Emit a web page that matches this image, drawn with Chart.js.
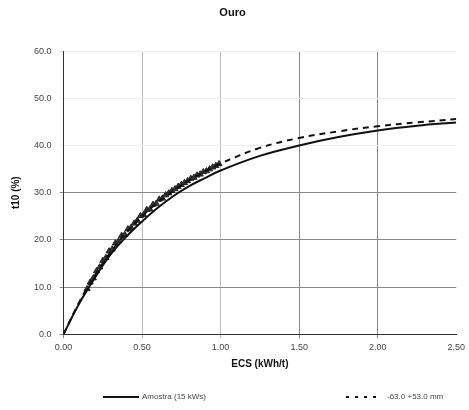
<!DOCTYPE html>
<html>
<head>
<meta charset="utf-8">
<script src="https://cdn.jsdelivr.net/npm/chart.js@4"></script>
<style>
  html, body { margin: 0; padding: 0; background: #fff; }
  #wrap { width: 469px; height: 410px; }
</style>
</head>
<body>
<div id="wrap"><canvas id="ouroChart"></canvas></div>
<script>
// Energy (kWh/t) and t10 (%) values
const ecsFit = [0, 0.1, 0.2, 0.3, 0.4, 0.5, 0.6, 0.7, 0.8, 0.9, 1.0, 1.25, 1.5, 1.75, 2.0, 2.25, 2.5];
const amostraT10 = [0, 6.5, 12.0, 16.9, 20.7, 23.9, 26.8, 29.3, 31.4, 33.1, 34.7, 37.8, 40.0, 41.8, 43.2, 44.2, 44.9];
const faixaT10 = [0, 6.8, 12.5, 17.4, 21.5, 25.0, 27.9, 30.4, 32.6, 34.5, 36.2, 39.5, 41.6, 43.0, 44.1, 44.9, 45.6];

// Measured points (cluster along the curves)
const ensaioEcs = [0.15, 0.17, 0.19, 0.21, 0.23, 0.25, 0.27, 0.29, 0.31, 0.33, 0.35, 0.37, 0.39, 0.41, 0.43, 0.45,
  0.47, 0.49, 0.51, 0.53, 0.55, 0.57, 0.59, 0.61, 0.63, 0.65, 0.67, 0.69, 0.71, 0.73, 0.75, 0.77, 0.79,
  0.81, 0.83, 0.85, 0.87, 0.89, 0.91, 0.93, 0.95, 0.97, 0.99];
const ensaioT10 = [9.6, 11.0, 11.9, 13.4, 14.2, 15.6, 16.2, 17.6, 18.0, 19.3, 19.7, 20.9, 21.1, 22.3, 22.6, 23.5,
  24.1, 25.1, 25.3, 26.4, 26.5, 27.5, 27.7, 28.6, 28.8, 29.5, 29.9, 30.4, 30.8, 31.3, 31.7, 32.1, 32.5,
  33.0, 33.2, 33.7, 33.9, 34.4, 34.6, 35.0, 35.4, 35.7, 36.1];

const legendLabels = ["Amostra (15 kWs)", "-63.0 +53.0 mm"];

const toXY = (xs, ys) => xs.map((x, i) => ({ x: x, y: ys[i] }));

// simple legend drawn below the x axis title
const bottomLegend = {
    id: "bottomLegend",
    afterDraw(chart) {
        const c = chart.ctx;
        const y = 397;
        c.save();
        c.strokeStyle = "#111";
        c.lineWidth = 2;
        c.beginPath();
        c.moveTo(103, y);
        c.lineTo(139, y);
        c.stroke();
        c.setLineDash([3, 6]);
        c.beginPath();
        c.moveTo(346, y);
        c.lineTo(381, y);
        c.stroke();
        c.setLineDash([]);
        c.fillStyle = "#444";
        c.font = "8px 'Liberation Sans'";
        c.textBaseline = "middle";
        c.fillText(legendLabels[0], 142, y);
        c.fillText(legendLabels[1], 387, y);
        c.restore();
    },
};

const ctx = document.getElementById("ouroChart").getContext("2d");
new Chart(ctx, {
    type: "scatter",
    data: {
        datasets: [
            {
                label: legendLabels[0],
                data: toXY(ecsFit, amostraT10),
                showLine: true,
                borderColor: "#111",
                borderWidth: 2,
                pointRadius: 0,
                tension: 0.4,
            },
            {
                label: legendLabels[1],
                data: toXY(ecsFit, faixaT10),
                showLine: true,
                borderColor: "#111",
                borderWidth: 2,
                borderDash: [6, 5],
                pointRadius: 0,
                tension: 0.4,
            },
            {
                label: "ensaio",
                data: toXY(ensaioEcs, ensaioT10),
                showLine: false,
                pointStyle: "triangle",
                pointRadius: 3.5,
                borderColor: "#222",
                backgroundColor: "#333",
                borderWidth: 1,
            },
        ],
    },
    options: {
        responsive: true,
        maintainAspectRatio: false,
        animation: false,
        layout: { padding: { left: 6, right: 10, top: 0, bottom: 38 } },
        plugins: {
            title: {
                display: true,
                text: "Ouro",
                color: "#111",
                font: { family: "Liberation Sans", size: 11, weight: "bold" },
                padding: { top: 6, bottom: 32 },
            },
            legend: { display: false },
            tooltip: { enabled: false },
        },
        scales: {
            x: {
                type: "linear",
                min: 0,
                max: 2.5,
                ticks: {
                    stepSize: 0.5,
                    color: "#444",
                    padding: 4,
                    font: { family: "Liberation Sans", size: 9 },
                    callback: (v) => v.toFixed(2),
                },
                grid: {
                    color: (c) => (c.tick && c.tick.value >= 2.5 ? "rgba(0,0,0,0)"
                        : c.tick && c.tick.value > 0 && c.tick.value < 1.5 ? "#bbb" : "#888"),
                    tickLength: 4,
                },
                border: { color: "#333" },
                title: {
                    display: true,
                    text: "ECS (kWh/t)",
                    color: "#111",
                    padding: { top: 1, bottom: 2 },
                    font: { family: "Liberation Sans", size: 10, weight: "bold" },
                },
            },
            y: {
                min: 0,
                max: 60,
                ticks: {
                    stepSize: 10,
                    color: "#444",
                    padding: 8,
                    font: { family: "Liberation Sans", size: 9 },
                    callback: (v) => v.toFixed(1),
                },
                grid: {
                    color: (c) => (c.tick && c.tick.value >= 40 ? "#eee" : "#888"),
                    tickLength: 4,
                },
                border: { color: "#333" },
                title: {
                    display: true,
                    text: "t10 (%)",
                    color: "#111",
                    font: { family: "Liberation Sans", size: 10, weight: "bold" },
                },
            },
        },
    },
    plugins: [bottomLegend],
});
</script>
</body>
</html>
